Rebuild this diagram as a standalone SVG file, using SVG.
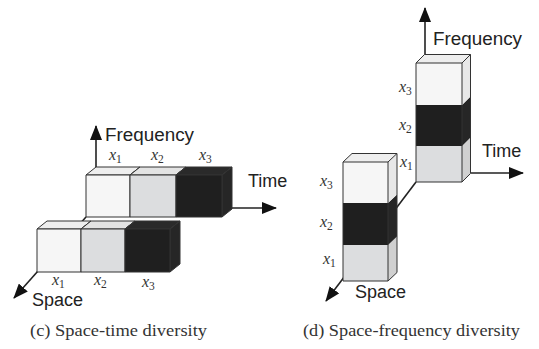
<svg xmlns="http://www.w3.org/2000/svg" width="539" height="349" viewBox="0 0 539 349">
<defs>
<marker id="ah" markerUnits="userSpaceOnUse" markerWidth="15" markerHeight="12" refX="14" refY="6" orient="auto">
<path d="M0,0 L15,6 L0,12 Z" fill="#111"/>
</marker>
<style>
.ax{stroke:#222;stroke-width:1.6;fill:none}
.ed{stroke:#333;stroke-width:1;stroke-linejoin:round}
.w{fill:#f6f6f6}.wt{fill:#eeeeee}.ws{fill:#e8e8e8}
.g{fill:#dcdddf}.gt{fill:#e3e3e3}.gs{fill:#d0d0d0}
.k{fill:#1f1f1f}.kt{fill:#2a2a2a}.ks{fill:#262626}
.lab{font-family:"Liberation Sans",Arial,sans-serif;font-size:18px;fill:#222}
.xl{font-family:"Liberation Serif","Times New Roman",serif;font-style:italic;font-size:16px;fill:#333}
.sub{font-size:11.5px;font-style:normal}
.cap{font-family:"Liberation Serif","Times New Roman",serif;font-size:17px;fill:#333}
</style>
</defs>

<g id="connectors">
<line class="ax" x1="96" y1="167" x2="96" y2="126" marker-end="url(#ah)"/>
<line class="ax" x1="232" y1="208" x2="276" y2="208" marker-end="url(#ah)"/>
<line class="ax" x1="86" y1="217" x2="14" y2="298" marker-end="url(#ah)"/>
<line class="ax" x1="425" y1="55" x2="425" y2="8" marker-end="url(#ah)"/>
<line class="ax" x1="471" y1="173" x2="523" y2="173" marker-end="url(#ah)"/>
<line class="ax" x1="416" y1="182" x2="326" y2="301" marker-end="url(#ah)"/>
</g>

<!-- (c) back row -->
<g id="c-back-x1">
<polygon class="wt ed" points="86,175 96,167 140,167 130,175"/>
<polygon class="ws ed" points="130,175 140,167 140,209 130,217"/>
<rect class="w ed" x="86" y="175" width="44" height="42"/>
</g>
<g id="c-back-x2">
<polygon class="gt ed" points="130,175 140,167 186,167 176,175"/>
<polygon class="gs ed" points="176,175 186,167 186,209 176,217"/>
<rect class="g ed" x="130" y="175" width="46" height="42"/>
</g>
<g id="c-back-x3">
<polygon class="kt ed" points="176,175 186,167 232,167 222,175"/>
<polygon class="ks ed" points="222,175 232,167 232,209 222,217"/>
<rect class="k ed" x="176" y="175" width="46" height="42"/>
</g>

<!-- (c) front row -->
<g id="c-front-x1">
<polygon class="wt ed" points="37,229 47,221 91,221 81,229"/>
<polygon class="ws ed" points="81,229 91,221 91,264 81,272"/>
<rect class="w ed" x="37" y="229" width="44" height="43"/>
</g>
<g id="c-front-x2">
<polygon class="gt ed" points="81,229 91,221 135,221 125,229"/>
<polygon class="gs ed" points="125,229 135,221 135,264 125,272"/>
<rect class="g ed" x="81" y="229" width="44" height="43"/>
</g>
<g id="c-front-x3">
<polygon class="kt ed" points="125,229 135,221 180,221 170,229"/>
<polygon class="ks ed" points="170,229 180,221 180,264 170,272"/>
<rect class="k ed" x="125" y="229" width="45" height="43"/>
</g>

<!-- (d) lower stack -->
<g id="d-lower">
<rect class="g" x="343" y="245" width="45" height="36"/>
<polygon class="gs" points="388,245 397,236.5 397,272.5 388,281"/>
<rect class="k" x="343" y="203" width="45" height="42"/>
<polygon class="ks" points="388,203 397,194.5 397,236.5 388,245"/>
<rect class="w" x="343" y="162" width="45" height="41"/>
<polygon class="ws" points="388,162 397,153.5 397,194.5 388,203"/>
<polygon class="wt" points="343,162 352,153.5 397,153.5 388,162"/>
<path class="ed" fill="none" d="M343,162 L352,153.5 L397,153.5 L397,272.5 L388,281 L343,281 Z M343,162 L388,162 L397,153.5 M388,162 L388,281"/>
</g>

<!-- (d) upper stack -->
<g id="d-upper">
<rect class="g" x="416" y="146" width="46" height="36"/>
<polygon class="gs" points="462,146 470.5,137.5 470.5,173.5 462,182"/>
<rect class="k" x="416" y="105" width="46" height="41"/>
<polygon class="ks" points="462,105 470.5,96.5 470.5,137.5 462,146"/>
<rect class="w" x="416" y="63" width="46" height="42"/>
<polygon class="ws" points="462,63 470.5,54.5 470.5,96.5 462,105"/>
<polygon class="wt" points="416,63 424.5,54.5 470.5,54.5 462,63"/>
<path class="ed" fill="none" d="M416,63 L424.5,54.5 L470.5,54.5 L470.5,173.5 L462,182 L416,182 Z M416,63 L462,63 L470.5,54.5 M462,63 L462,182"/>
</g>

<g id="labels">
<text class="lab" x="105" y="141" textLength="89" lengthAdjust="spacingAndGlyphs">Frequency</text>
<text class="lab" x="248" y="187">Time</text>
<text class="lab" x="32" y="306">Space</text>
<text class="lab" x="433" y="45" textLength="89" lengthAdjust="spacingAndGlyphs">Frequency</text>
<text class="lab" x="482" y="157">Time</text>
<text class="lab" x="355" y="298">Space</text>

<text class="xl" x="109" y="160">x<tspan class="sub" dy="3">1</tspan></text>
<text class="xl" x="151" y="160">x<tspan class="sub" dy="3">2</tspan></text>
<text class="xl" x="199" y="160">x<tspan class="sub" dy="3">3</tspan></text>
<text class="xl" x="52" y="285">x<tspan class="sub" dy="3">1</tspan></text>
<text class="xl" x="94" y="285">x<tspan class="sub" dy="3">2</tspan></text>
<text class="xl" x="142" y="287">x<tspan class="sub" dy="3">3</tspan></text>

<text class="xl" x="399" y="92">x<tspan class="sub" dy="3">3</tspan></text>
<text class="xl" x="399" y="130">x<tspan class="sub" dy="3">2</tspan></text>
<text class="xl" x="400" y="167">x<tspan class="sub" dy="3">1</tspan></text>
<text class="xl" x="320" y="186">x<tspan class="sub" dy="3">3</tspan></text>
<text class="xl" x="320" y="227">x<tspan class="sub" dy="3">2</tspan></text>
<text class="xl" x="323" y="264">x<tspan class="sub" dy="3">1</tspan></text>

<text class="cap" x="30" y="336" textLength="177" lengthAdjust="spacingAndGlyphs">(c) Space-time diversity</text>
<text class="cap" x="303" y="336" textLength="217" lengthAdjust="spacingAndGlyphs">(d) Space-frequency diversity</text>
</g>
</svg>
